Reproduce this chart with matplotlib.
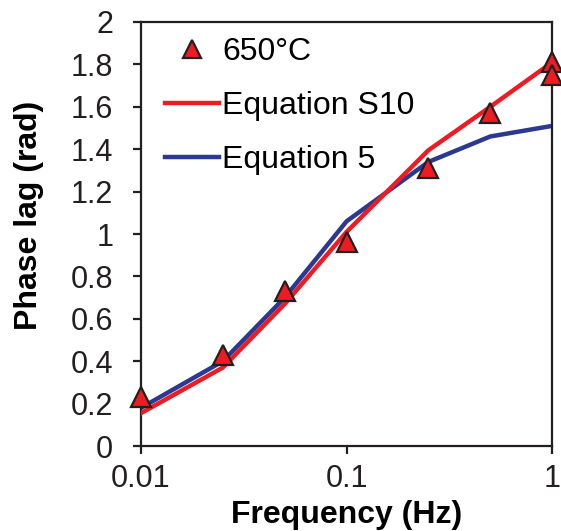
import numpy as np
import matplotlib.pyplot as plt

plt.rcParams['font.family'] = ['Liberation Sans', 'DejaVu Sans']

# measured points at 650 C
freq_meas = [0.01, 0.025, 0.05, 0.1, 0.25, 0.5, 1.0, 1.0]
lag_meas = [0.23, 0.43, 0.73, 0.96, 1.31, 1.57, 1.81, 1.75]

# model curves
freq_model = [0.01, 0.025, 0.05, 0.1, 0.25, 0.5, 1.0]
lag_s10 = [0.155, 0.37, 0.67, 1.01, 1.395, 1.60, 1.81]
lag_eq5 = [0.18, 0.40, 0.70, 1.06, 1.34, 1.46, 1.51]

fig = plt.figure(figsize=(5.61, 5.31), dpi=100)
ax = fig.add_axes([0.2513, 0.160, 0.733, 0.7986])

ax.plot(freq_meas, lag_meas, linestyle='none', marker='^', markersize=15,
        markerfacecolor='#ED1C24', markeredgecolor='#231F20', markeredgewidth=1.6,
        label='650°C', zorder=4, clip_on=False)
ax.plot(freq_model, lag_s10, color='#ED1C24', lw=3.2, label='Equation S10', zorder=3)
ax.plot(freq_model, lag_eq5, color='#2B3990', lw=3.2, label='Equation 5', zorder=2)

ax.set_xscale('log')
ax.set_xlim(0.01, 1)
ax.set_ylim(0, 2)
ax.set_xticks([0.01, 0.1, 1])
ax.set_xticklabels(['0.01', '0.1', '1'])
ax.xaxis.set_minor_locator(plt.NullLocator())
ax.set_yticks(np.arange(0, 2.01, 0.2))
ax.set_yticklabels(['0', '0.2', '0.4', '0.6', '0.8', '1', '1.2', '1.4', '1.6', '1.8', '2'])

for s in ax.spines.values():
    s.set_linewidth(1.6)
    s.set_color('#231F20')
ax.tick_params(axis='both', direction='out', length=6, width=1.6, labelsize=22,
               colors='#231F20')
ax.tick_params(axis='y', pad=14)
ax.tick_params(axis='x', pad=7)

ax.set_xlabel('Frequency (Hz)', fontsize=23, fontweight='bold', labelpad=4)
ax.set_ylabel('Phase lag (rad)', fontsize=23, fontweight='bold')
ax.yaxis.set_label_coords(-0.235, 0.545)

leg = ax.legend(loc='upper left', frameon=False, fontsize=23, handlelength=1.7,
                handletextpad=0.1, borderaxespad=0, borderpad=0, labelspacing=0.75,
                bbox_to_anchor=(0.058, 0.965))
leg.legend_handles[0].set_markersize(13)

fig.savefig('out.png', dpi=100)
